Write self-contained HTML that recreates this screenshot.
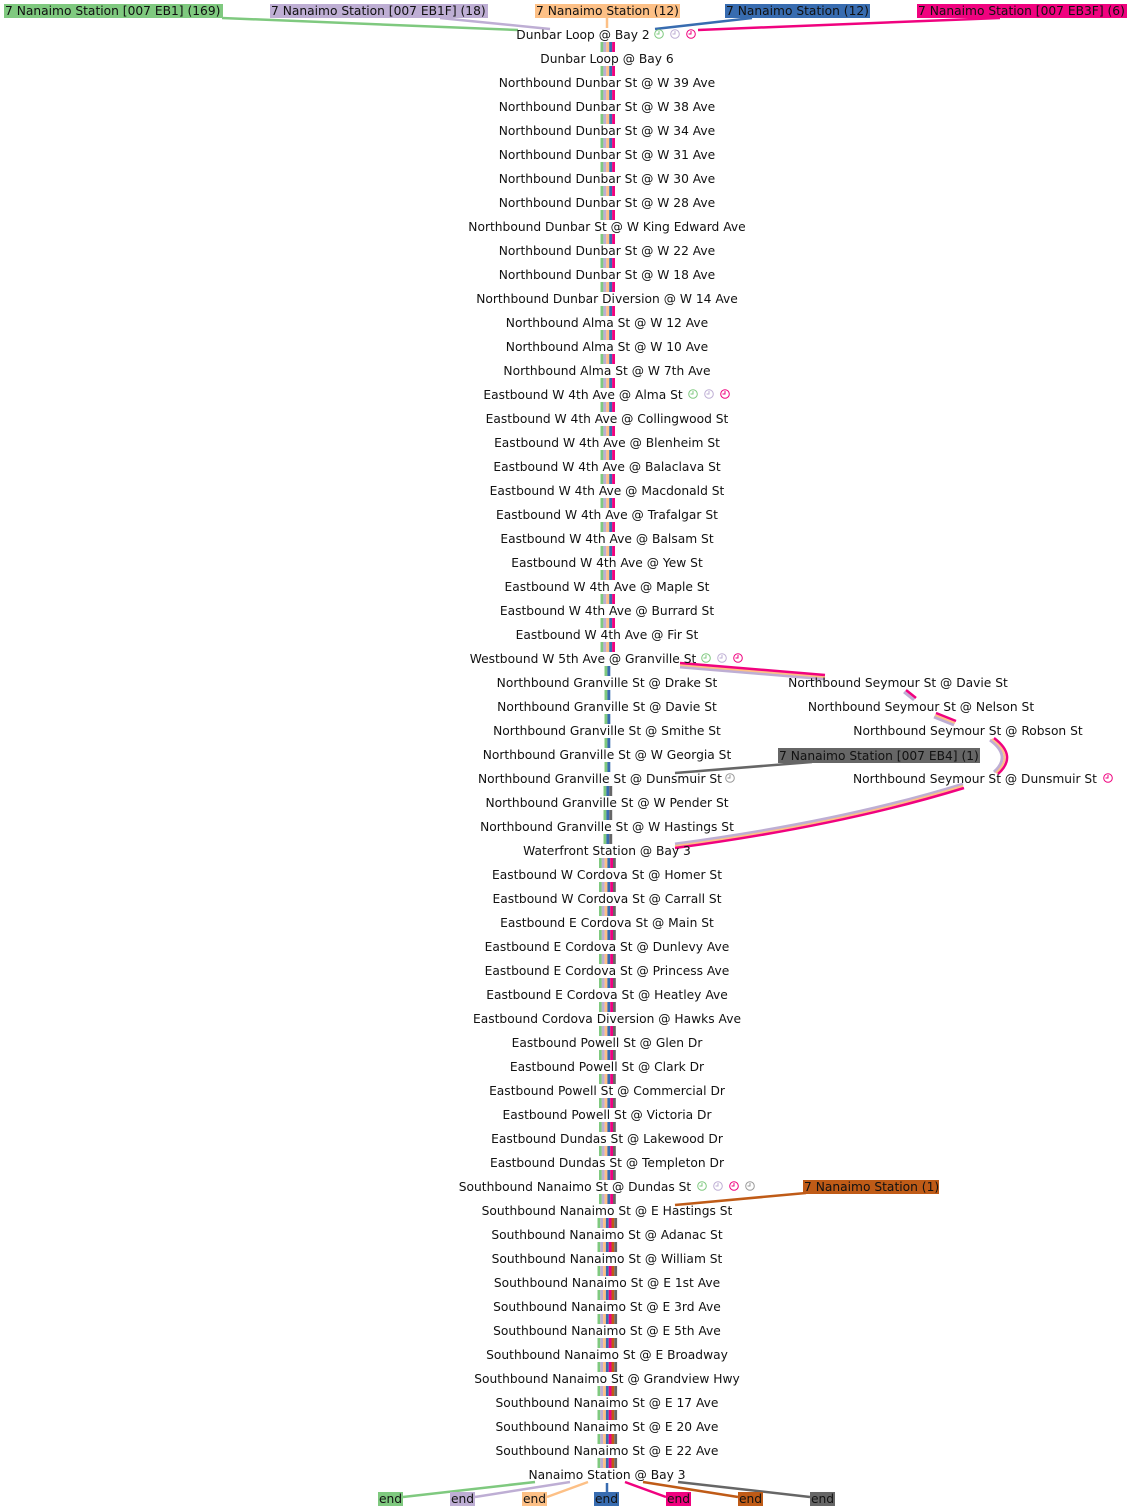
<!DOCTYPE html>
<html><head><meta charset="utf-8"><style>
html,body{margin:0;padding:0;background:#fff;}
svg{display:block;}
text{font-family:"DejaVu Sans","Liberation Sans",sans-serif;font-size:12.25px;fill:#111;}
</style></head><body>
<svg width="1131" height="1512" viewBox="0 0 1131 1512" xmlns="http://www.w3.org/2000/svg">
<defs>
<g id="s5"><rect x="600.5" y="0" width="2.9" height="10" fill="#7fc97f"/><rect x="603.4" y="0" width="2.9" height="10" fill="#beaed4"/><rect x="606.3" y="0" width="2.9" height="10" fill="#fdc086"/><rect x="609.2" y="0" width="2.9" height="10" fill="#386cb0"/><rect x="612.1" y="0" width="2.9" height="10" fill="#f0027f"/></g>
<g id="s2"><rect x="604.5" y="0" width="2.9" height="10" fill="#7fc97f"/><rect x="607.4" y="0" width="2.9" height="10" fill="#386cb0"/></g>
<g id="s3"><rect x="603.5" y="0" width="2.9" height="10" fill="#7fc97f"/><rect x="606.4" y="0" width="2.9" height="10" fill="#386cb0"/><rect x="609.3" y="0" width="2.9" height="10" fill="#666666"/></g>
<g id="s6"><rect x="599" y="0" width="2.8" height="10" fill="#7fc97f"/><rect x="601.8" y="0" width="2.8" height="10" fill="#beaed4"/><rect x="604.6" y="0" width="2.8" height="10" fill="#fdc086"/><rect x="607.4" y="0" width="2.8" height="10" fill="#386cb0"/><rect x="610.2" y="0" width="2.8" height="10" fill="#f0027f"/><rect x="613" y="0" width="2.8" height="10" fill="#666666"/></g>
<g id="s7"><rect x="597.5" y="0" width="2.8" height="10" fill="#7fc97f"/><rect x="600.3" y="0" width="2.8" height="10" fill="#beaed4"/><rect x="603.1" y="0" width="2.8" height="10" fill="#fdc086"/><rect x="605.9" y="0" width="2.8" height="10" fill="#386cb0"/><rect x="608.7" y="0" width="2.8" height="10" fill="#f0027f"/><rect x="611.5" y="0" width="2.8" height="10" fill="#bf5b17"/><rect x="614.3" y="0" width="2.8" height="10" fill="#666666"/></g>
<g id="clk"><circle cx="0" cy="0" r="4.3" fill="none" stroke-width="1"/><path d="M0,-3V0H-2.5" fill="none" stroke-width="1"/></g>
</defs>

<g>
<use href="#s5" y="42"/><use href="#s5" y="66"/><use href="#s5" y="90"/><use href="#s5" y="114"/><use href="#s5" y="138"/><use href="#s5" y="162"/><use href="#s5" y="186"/><use href="#s5" y="210"/><use href="#s5" y="234"/><use href="#s5" y="258"/><use href="#s5" y="282"/><use href="#s5" y="306"/><use href="#s5" y="330"/><use href="#s5" y="354"/><use href="#s5" y="378"/><use href="#s5" y="402"/><use href="#s5" y="426"/><use href="#s5" y="450"/><use href="#s5" y="474"/><use href="#s5" y="498"/><use href="#s5" y="522"/><use href="#s5" y="546"/><use href="#s5" y="570"/><use href="#s5" y="594"/><use href="#s5" y="618"/><use href="#s5" y="642"/>
<use href="#s2" y="666"/><use href="#s2" y="690"/><use href="#s2" y="714"/><use href="#s2" y="738"/><use href="#s2" y="762"/>
<use href="#s3" y="786"/><use href="#s3" y="810"/><use href="#s3" y="834"/>
<use href="#s6" y="858"/><use href="#s6" y="882"/><use href="#s6" y="906"/><use href="#s6" y="930"/><use href="#s6" y="954"/><use href="#s6" y="978"/><use href="#s6" y="1002"/><use href="#s6" y="1026"/><use href="#s6" y="1050"/><use href="#s6" y="1074"/><use href="#s6" y="1098"/><use href="#s6" y="1122"/><use href="#s6" y="1146"/><use href="#s6" y="1170"/><use href="#s6" y="1194"/>
<use href="#s7" y="1218"/><use href="#s7" y="1242"/><use href="#s7" y="1266"/><use href="#s7" y="1290"/><use href="#s7" y="1314"/><use href="#s7" y="1338"/><use href="#s7" y="1362"/><use href="#s7" y="1386"/><use href="#s7" y="1410"/><use href="#s7" y="1434"/><use href="#s7" y="1458"/>
</g>

<g fill="none" stroke-width="2.5">
<path d="M222,18 L518,30" stroke="#7fc97f"/>
<path d="M440,18 L550,29" stroke="#beaed4"/>
<path d="M607,18 L607,28" stroke="#fdc086"/>
<path d="M752,18 L655,29" stroke="#386cb0"/>
<path d="M1000,18 L698,30" stroke="#f0027f"/>
</g>
<g>
<rect x="4" y="4" width="219" height="14" fill="#7fc97f"/><text x="5" y="15">7 Nanaimo Station [007 EB1] (169)</text>
<rect x="270" y="4" width="218" height="14" fill="#beaed4"/><text x="271" y="15">7 Nanaimo Station [007 EB1F] (18)</text>
<rect x="535" y="4" width="145" height="14" fill="#fdc086"/><text x="536" y="15">7 Nanaimo Station (12)</text>
<rect x="725" y="4" width="145" height="14" fill="#386cb0"/><text x="726" y="15">7 Nanaimo Station (12)</text>
<rect x="917" y="4" width="210" height="14" fill="#f0027f"/><text x="918" y="15">7 Nanaimo Station [007 EB3F] (6)</text>
</g>

<g fill="none" stroke-linecap="butt">
<path d="M680,667 L825,679" stroke="#beaed4" stroke-width="3"/>
<path d="M680,665 L825,677" stroke="#fdc086" stroke-width="2"/>
<path d="M680,663 L825,675" stroke="#f0027f" stroke-width="2.5"/>
<path d="M904,692 L914,700" stroke="#beaed4" stroke-width="3"/>
<path d="M906,690 L916,698" stroke="#f0027f" stroke-width="2.5"/>
<path d="M934,717 L954,725" stroke="#beaed4" stroke-width="3"/>
<path d="M935,715 L955,723" stroke="#fdc086" stroke-width="2"/>
<path d="M936,713 L956,721" stroke="#f0027f" stroke-width="2.5"/>
<path d="M990,740 Q1012,756 994,772" stroke="#beaed4" stroke-width="3"/>
<path d="M992,739 Q1015,756 996,773" stroke="#fdc086" stroke-width="2"/>
<path d="M994,738 Q1018,756 998,774" stroke="#f0027f" stroke-width="2.5"/>
<path d="M963,784 Q840,822 675,844" stroke="#beaed4" stroke-width="3"/>
<path d="M963,786 Q840,824 675,846" stroke="#fdc086" stroke-width="2"/>
<path d="M964,788 Q840,826 675,848" stroke="#f0027f" stroke-width="2.5"/>
<path d="M675,773 L812,762" stroke="#666666" stroke-width="2.5"/>
<path d="M675,1205 L806,1193" stroke="#bf5b17" stroke-width="2.5"/>
</g>
<rect x="778" y="748" width="202" height="15" fill="#666666"/><text x="779" y="760">7 Nanaimo Station [007 EB4] (1)</text>
<rect x="803" y="1180" width="136" height="14" fill="#bf5b17"/><text x="804" y="1191">7 Nanaimo Station (1)</text>

<g text-anchor="middle">
<text x="583" y="39">Dunbar Loop @ Bay 2</text>
<text x="607" y="63">Dunbar Loop @ Bay 6</text>
<text x="607" y="87">Northbound Dunbar St @ W 39 Ave</text>
<text x="607" y="111">Northbound Dunbar St @ W 38 Ave</text>
<text x="607" y="135">Northbound Dunbar St @ W 34 Ave</text>
<text x="607" y="159">Northbound Dunbar St @ W 31 Ave</text>
<text x="607" y="183">Northbound Dunbar St @ W 30 Ave</text>
<text x="607" y="207">Northbound Dunbar St @ W 28 Ave</text>
<text x="607" y="231">Northbound Dunbar St @ W King Edward Ave</text>
<text x="607" y="255">Northbound Dunbar St @ W 22 Ave</text>
<text x="607" y="279">Northbound Dunbar St @ W 18 Ave</text>
<text x="607" y="303">Northbound Dunbar Diversion @ W 14 Ave</text>
<text x="607" y="327">Northbound Alma St @ W 12 Ave</text>
<text x="607" y="351">Northbound Alma St @ W 10 Ave</text>
<text x="607" y="375">Northbound Alma St @ W 7th Ave</text>
<text x="583" y="399">Eastbound W 4th Ave @ Alma St</text>
<text x="607" y="423">Eastbound W 4th Ave @ Collingwood St</text>
<text x="607" y="447">Eastbound W 4th Ave @ Blenheim St</text>
<text x="607" y="471">Eastbound W 4th Ave @ Balaclava St</text>
<text x="607" y="495">Eastbound W 4th Ave @ Macdonald St</text>
<text x="607" y="519">Eastbound W 4th Ave @ Trafalgar St</text>
<text x="607" y="543">Eastbound W 4th Ave @ Balsam St</text>
<text x="607" y="567">Eastbound W 4th Ave @ Yew St</text>
<text x="607" y="591">Eastbound W 4th Ave @ Maple St</text>
<text x="607" y="615">Eastbound W 4th Ave @ Burrard St</text>
<text x="607" y="639">Eastbound W 4th Ave @ Fir St</text>
<text x="583" y="663">Westbound W 5th Ave @ Granville St</text>
<text x="607" y="687">Northbound Granville St @ Drake St</text>
<text x="607" y="711">Northbound Granville St @ Davie St</text>
<text x="607" y="735">Northbound Granville St @ Smithe St</text>
<text x="607" y="759">Northbound Granville St @ W Georgia St</text>
<text x="600" y="783">Northbound Granville St @ Dunsmuir St</text>
<text x="607" y="807">Northbound Granville St @ W Pender St</text>
<text x="607" y="831">Northbound Granville St @ W Hastings St</text>
<text x="607" y="855">Waterfront Station @ Bay 3</text>
<text x="607" y="879">Eastbound W Cordova St @ Homer St</text>
<text x="607" y="903">Eastbound W Cordova St @ Carrall St</text>
<text x="607" y="927">Eastbound E Cordova St @ Main St</text>
<text x="607" y="951">Eastbound E Cordova St @ Dunlevy Ave</text>
<text x="607" y="975">Eastbound E Cordova St @ Princess Ave</text>
<text x="607" y="999">Eastbound E Cordova St @ Heatley Ave</text>
<text x="607" y="1023">Eastbound Cordova Diversion @ Hawks Ave</text>
<text x="607" y="1047">Eastbound Powell St @ Glen Dr</text>
<text x="607" y="1071">Eastbound Powell St @ Clark Dr</text>
<text x="607" y="1095">Eastbound Powell St @ Commercial Dr</text>
<text x="607" y="1119">Eastbound Powell St @ Victoria Dr</text>
<text x="607" y="1143">Eastbound Dundas St @ Lakewood Dr</text>
<text x="607" y="1167">Eastbound Dundas St @ Templeton Dr</text>
<text x="575" y="1191">Southbound Nanaimo St @ Dundas St</text>
<text x="607" y="1215">Southbound Nanaimo St @ E Hastings St</text>
<text x="607" y="1239">Southbound Nanaimo St @ Adanac St</text>
<text x="607" y="1263">Southbound Nanaimo St @ William St</text>
<text x="607" y="1287">Southbound Nanaimo St @ E 1st Ave</text>
<text x="607" y="1311">Southbound Nanaimo St @ E 3rd Ave</text>
<text x="607" y="1335">Southbound Nanaimo St @ E 5th Ave</text>
<text x="607" y="1359">Southbound Nanaimo St @ E Broadway</text>
<text x="607" y="1383">Southbound Nanaimo St @ Grandview Hwy</text>
<text x="607" y="1407">Southbound Nanaimo St @ E 17 Ave</text>
<text x="607" y="1431">Southbound Nanaimo St @ E 20 Ave</text>
<text x="607" y="1455">Southbound Nanaimo St @ E 22 Ave</text>
<text x="607" y="1479">Nanaimo Station @ Bay 3</text>
<text x="898" y="687">Northbound Seymour St @ Davie St</text>
<text x="921" y="711">Northbound Seymour St @ Nelson St</text>
<text x="968" y="735">Northbound Seymour St @ Robson St</text>
<text x="975" y="783">Northbound Seymour St @ Dunsmuir St</text>
</g>

<g>
<use href="#clk" x="659" y="34" stroke="#7fc97f"/><use href="#clk" x="675" y="34" stroke="#beaed4"/><use href="#clk" x="691" y="34" stroke="#f0027f"/>
<use href="#clk" x="693" y="394" stroke="#7fc97f"/><use href="#clk" x="709" y="394" stroke="#beaed4"/><use href="#clk" x="725" y="394" stroke="#f0027f"/>
<use href="#clk" x="706" y="658" stroke="#7fc97f"/><use href="#clk" x="722" y="658" stroke="#beaed4"/><use href="#clk" x="738" y="658" stroke="#f0027f"/>
<use href="#clk" x="730" y="778" stroke="#999"/>
<use href="#clk" x="1108" y="778" stroke="#f0027f"/>
<use href="#clk" x="702" y="1186" stroke="#7fc97f"/><use href="#clk" x="718" y="1186" stroke="#beaed4"/><use href="#clk" x="734" y="1186" stroke="#f0027f"/><use href="#clk" x="750" y="1186" stroke="#999"/>
</g>

<g fill="none" stroke-width="2.5">
<path d="M535,1482 L403,1497" stroke="#7fc97f"/>
<path d="M570,1482 L475,1497" stroke="#beaed4"/>
<path d="M588,1482 L547,1497" stroke="#fdc086"/>
<path d="M607,1483 L607,1492" stroke="#386cb0"/>
<path d="M625,1482 L666,1497" stroke="#f0027f"/>
<path d="M643,1482 L738,1497" stroke="#bf5b17"/>
<path d="M678,1482 L810,1497" stroke="#666666"/>
</g>
<g>
<rect x="378" y="1492" width="25" height="14" fill="#7fc97f"/><text x="379" y="1503">end</text>
<rect x="450" y="1492" width="25" height="14" fill="#beaed4"/><text x="451" y="1503">end</text>
<rect x="522" y="1492" width="25" height="14" fill="#fdc086"/><text x="523" y="1503">end</text>
<rect x="594" y="1492" width="25" height="14" fill="#386cb0"/><text x="595" y="1503">end</text>
<rect x="666" y="1492" width="25" height="14" fill="#f0027f"/><text x="667" y="1503">end</text>
<rect x="738" y="1492" width="25" height="14" fill="#bf5b17"/><text x="739" y="1503">end</text>
<rect x="810" y="1492" width="25" height="14" fill="#666666"/><text x="811" y="1503">end</text>
</g>
</svg>
</body></html>
